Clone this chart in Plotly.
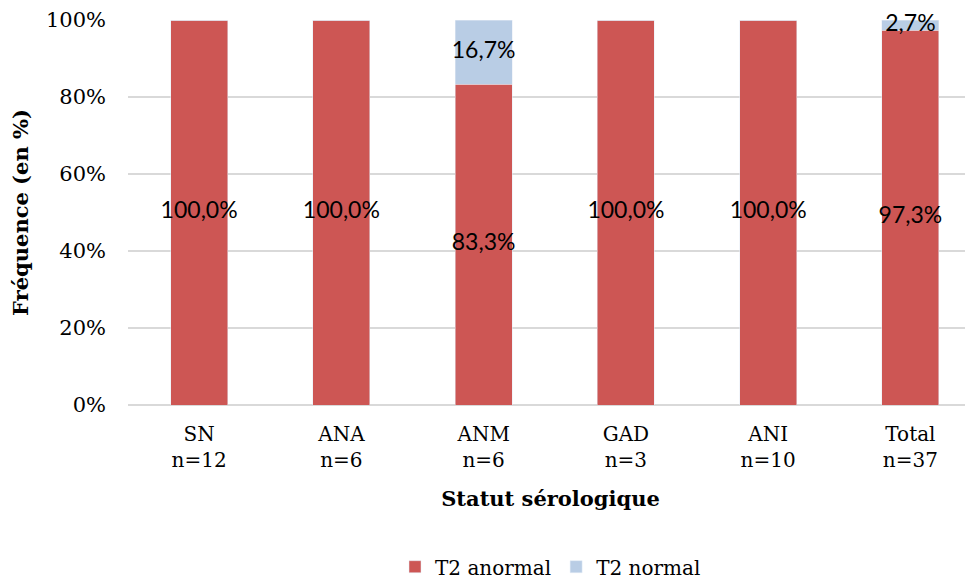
import plotly.graph_objects as go

categories = ["SN<br>n=12", "ANA<br>n=6", "ANM<br>n=6", "GAD<br>n=3", "ANI<br>n=10", "Total<br>n=37"]
t2_anormal = [100.0, 100.0, 83.3, 100.0, 100.0, 97.3]
t2_normal = [0.0, 0.0, 16.7, 0.0, 0.0, 2.7]

serif = "DejaVu Serif"
sans = "Lato"

fig = go.Figure()
fig.add_trace(go.Bar(x=categories, y=[v / 100 for v in t2_anormal], name="T2 anormal",
                     marker_color="#CD5654", width=0.4))
fig.add_trace(go.Bar(x=categories, y=[v / 100 for v in t2_normal], name="T2 normal",
                     marker_color="#B9CDE5", width=0.4))

# data labels centred in each segment
lx, ly, lt = [], [], []
for c, a, n in zip(categories, t2_anormal, t2_normal):
    if a > 0:
        lx.append(c); ly.append(a / 200); lt.append(f"{a:.1f}%".replace(".", ","))
    if n > 0:
        lx.append(c); ly.append((a + n / 2) / 100); lt.append(f"{n:.1f}%".replace(".", ","))
fig.add_trace(go.Scatter(x=lx, y=ly, text=lt, mode="text", showlegend=False,
                         textfont=dict(family=sans, size=23, color="#000000"),
                         hoverinfo="skip", cliponaxis=False))

fig.update_layout(
    barmode="stack",
    width=965, height=573,
    margin=dict(l=120, r=0, t=12, b=176, autoexpand=False),
    plot_bgcolor="white", paper_bgcolor="white",
    font=dict(family=serif, size=20, color="#000000"),
    legend=dict(orientation="h", x=0.5, xanchor="center", y=-0.42, yanchor="middle",
                font=dict(family=serif, size=20), traceorder="normal"),
    xaxis=dict(range=[-0.5, 5.44], showgrid=False, showline=False, ticks="",
               automargin=False, ticklabelstandoff=15,
               tickfont=dict(family=serif, size=20),
               title=dict(text="<b>Statut sérologique</b>", font=dict(family=serif, size=21), standoff=20)),
    yaxis=dict(range=[0, 1], tickvals=[0, 0.2, 0.4, 0.6, 0.8, 1.0], tickformat=".0%",
               showgrid=True, gridcolor="#D9D9D9", gridwidth=2,
               zeroline=True, zerolinecolor="#D9D9D9", zerolinewidth=2,
               showline=False, ticks="", ticklen=0, automargin=False, ticklabelstandoff=21,
               tickfont=dict(family=serif, size=21),
               title=dict(text="<b>Fréquence (en %)</b>", font=dict(family=serif, size=21), standoff=14)),
)

fig.write_html("out.html")
